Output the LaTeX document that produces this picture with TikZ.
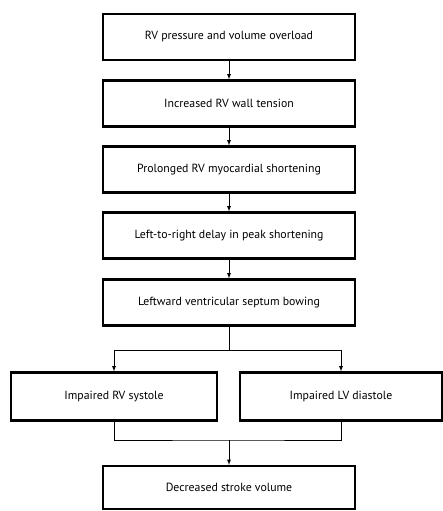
\documentclass[tikz,border=0pt]{standalone}
\usepackage{fontspec}
\setmainfont{PT Sans}
\usepackage{tikz}

\begin{document}
\begin{tikzpicture}[x=1pt,y=-1pt]
\tikzstyle{box}=[draw,line width=2.2pt,minimum width=252pt,minimum height=46pt,inner sep=0pt,font=\fontsize{11.8}{14}\selectfont]
\tikzstyle{edge}=[draw,line width=0.8pt,-latex]
\tikzstyle{line}=[draw,line width=0.8pt]

\useasboundingbox (0,0) rectangle (443,511);

\node[box] (overload) at (229,37) {RV pressure and volume overload};
\node[box] (tension) at (229,103.5) {Increased RV wall tension};
\node[box] (prolonged) at (229,169.5) {Prolonged RV myocardial shortening};
\node[box] (delay) at (229,235.5) {Left-to-right delay in peak shortening};
\node[box] (bowing) at (229,302.5) {Leftward ventricular septum bowing};
\node[box,minimum width=206pt,minimum height=48pt] (rvsys) at (114,396.5) {Impaired RV systole};
\node[box,minimum width=202pt,minimum height=48pt] (lvdia) at (341,396.5) {Impaired LV diastole};
\node[box,minimum height=43pt] (stroke) at (229,487.5) {Decreased stroke volume};

\coordinate (split) at (229,350);
\coordinate (merge) at (229,440);

\path (overload) edge[edge] (tension);
\path (tension) edge[edge] (prolonged);
\path (prolonged) edge[edge] (delay);
\path (delay) edge[edge] (bowing);

\path[line] (bowing) -- (split);
\path[edge] (split) -| (rvsys);
\path[edge] (split) -| (lvdia);

\path[line] (rvsys) |- (merge) -| (lvdia);
\path (merge) edge[edge] (stroke);

\end{tikzpicture}
\end{document}
